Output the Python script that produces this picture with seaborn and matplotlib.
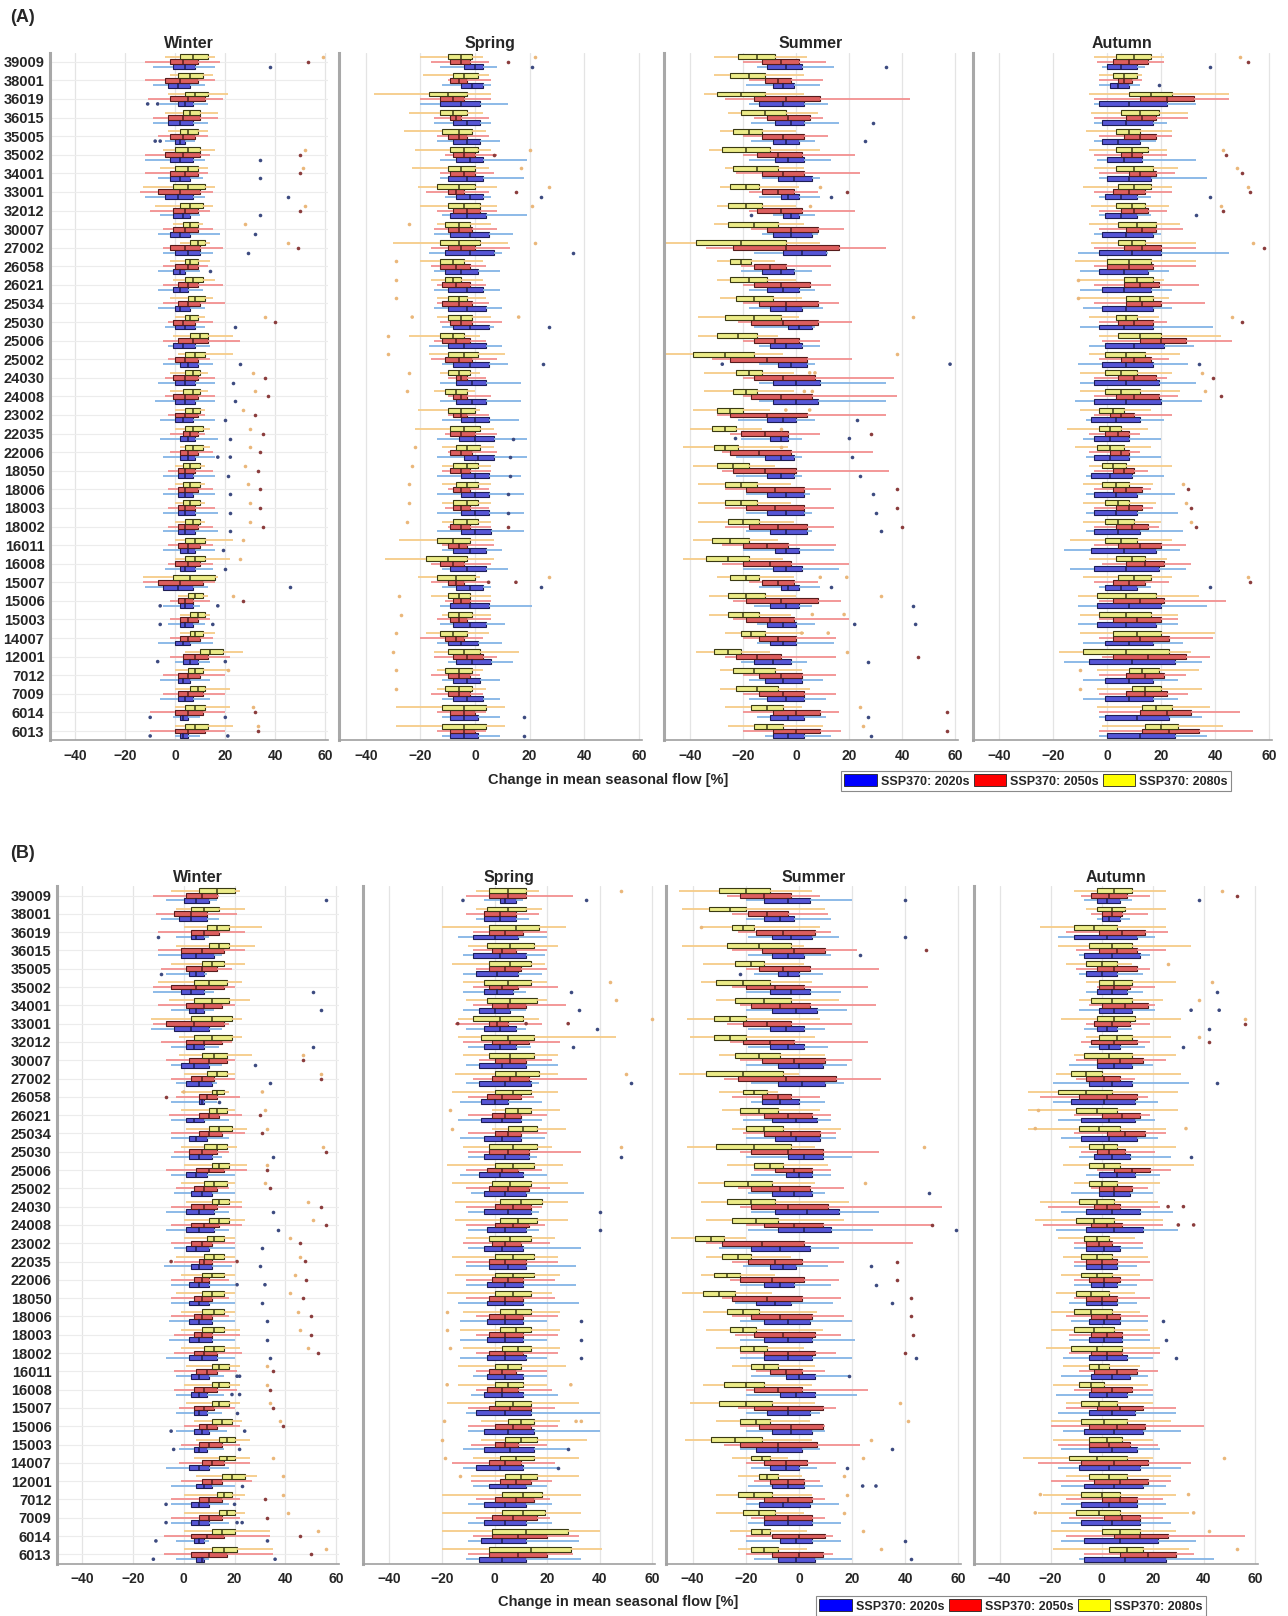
import numpy as np
import pandas as pd
import matplotlib.pyplot as plt
import seaborn as sns
from matplotlib.patches import Patch

# %% data: catchments, periods, and per-box (low whisker, q1, median, q3, high whisker)
catchments = ['39009', '38001', '36019', '36015', '35005', '35002', '34001', '33001', '32012',
              '30007', '27002', '26058', '26021', '25034', '25030', '25006', '25002', '24030',
              '24008', '23002', '22035', '22006', '18050', '18006', '18003', '18002', '16011',
              '16008', '15007', '15006', '15003', '14007', '12001', '7012', '7009', '6014', '6013']
periods = ['2020s', '2050s', '2080s']
seasons = ['Winter', 'Spring', 'Summer', 'Autumn']

# ---------------- (A) ----------------
A_winter_2020s = [(-9,-1,4,8,16),(-9,-3,1,6,12),(-6,1,4,7,13),(-9,-3,2,7,13),(-4,0,2,4,8),(-12,-2,2,7,12),
    (-7,-2,2,6,11),(-12,-4,1,7,12),(-6,-1,3,6,10),(-7,-2,2,6,18),(-5,0,5,10,15),(-7,-1,2,4,10),(-7,-1,2,5,11),
    (-7,0,2,6,12),(-4,0,4,8,12),(-3,-1,3,8,14),(-5,2,5,9,15),(-7,0,4,8,16),(-8,0,4,8,16),(-6,0,3,7,16),
    (-6,2,5,8,17),(-5,2,5,8,16),(-5,1,4,7,16),(-5,1,4,7,16),(-5,1,4,8,17),(-5,1,4,8,17),(-5,2,5,8,16),
    (-4,2,4,8,15),(-12,-5,1,7,13),(-5,2,4,7,10),(-3,2,4,7,12),(-7,0,3,6,15),(0,3,6,9,14),(-6,1,3,6,14),
    (-6,1,4,7,14),(-1,2,3,5,10),(0,2,3,5,10)]
A_winter_2050s = [(-12,-2,3,9,18),(-12,-4,2,9,16),(-11,-2,5,12,19),(-9,-3,3,10,17),(-7,-2,3,8,13),(-12,-4,3,10,14),
    (-12,-2,4,9,13),(-14,-7,2,10,15),(-10,-1,4,9,14),(-5,-1,4,9,15),(-5,-2,4,10,19),(-5,0,5,9,13),(-5,1,5,9,19),
    (-5,1,5,10,20),(-3,-1,3,8,15),(-5,1,7,13,26),(-3,0,4,9,14),(-4,-1,4,9,16),(-4,-1,4,9,16),(-3,0,4,9,12),
    (-2,3,6,9,12),(-2,2,5,9,15),(-3,1,4,8,15),(-3,1,4,9,15),(-3,1,4,8,16),(-3,1,4,9,15),(-3,1,5,10,15),
    (-3,0,5,10,15),(-13,-7,2,11,16),(-2,1,4,7,14),(-2,2,5,9,14),(-2,2,5,10,15),(-2,3,8,13,22),(-5,1,5,10,20),
    (-5,1,5,11,20),(-10,0,5,11,20),(-10,0,5,12,20)]
A_winter_2080s = [(-4,2,7,13,16),(-2,1,6,11,15),(-3,4,8,13,21),(-4,3,6,10,17),(-3,2,5,9,13),(-5,0,5,10,16),
    (-6,0,5,9,13),(-13,-1,5,12,16),(-8,2,6,11,15),(-1,3,6,9,11),(2,6,9,12,14),(-2,4,6,9,14),(-1,4,7,11,16),
    (-2,5,8,12,15),(0,4,6,9,12),(-1,6,10,13,23),(1,4,8,12,23),(-2,4,7,10,13),(-2,3,7,10,13),(0,4,7,10,12),
    (0,4,7,11,14),(2,4,7,11,14),(0,3,6,10,12),(0,3,6,10,12),(0,3,6,10,12),(0,4,7,10,12),(0,4,8,12,23),
    (0,4,8,12,22),(-13,-1,6,16,17),(1,5,8,11,13),(2,6,9,12,14),(2,6,8,11,16),(4,10,14,19,27),(0,5,8,11,21),
    (0,6,9,12,22),(0,4,8,12,22),(0,4,8,13,23)]
A_winter_out = [('39009','2020s',38),('39009','2050s',53),('39009','2080s',59),('36019','2020s',-11),('36019','2020s',-7),
    ('35005','2020s',-8),('35005','2020s',-6),('35002','2020s',34),('35002','2050s',50),('35002','2080s',52),
    ('34001','2020s',34),('34001','2050s',50),('34001','2080s',51),('33001','2020s',45),('32012','2020s',34),
    ('32012','2050s',50),('32012','2080s',52),('30007','2020s',32),('30007','2080s',28),('27002','2020s',29),
    ('27002','2050s',49),('27002','2080s',45),('26058','2020s',14),('25030','2020s',24),('25030','2080s',36),
    ('25030','2050s',40),('25002','2020s',26),('24030','2020s',23),('24030','2080s',31),('24030','2050s',36),
    ('24008','2020s',24),('24008','2080s',32),('24008','2050s',37),('23002','2020s',20),('23002','2080s',27),
    ('23002','2050s',32),('22035','2020s',22),('22035','2080s',30),('22035','2050s',35),('22006','2020s',17),
    ('22006','2020s',22),('22006','2080s',30),('22006','2050s',34),('18050','2020s',21),('18050','2080s',28),
    ('18050','2050s',33),('18006','2020s',22),('18006','2080s',29),('18006','2050s',34),('18003','2020s',22),
    ('18003','2080s',30),('18003','2050s',34),('18002','2020s',22),('18002','2080s',30),('18002','2050s',35),
    ('16011','2020s',19),('16011','2080s',27),('16008','2020s',20),('16008','2080s',26),('15007','2020s',46),
    ('15006','2020s',-6),('15006','2020s',17),('15006','2080s',23),('15006','2050s',27),('15003','2020s',-6),
    ('15003','2020s',15),('12001','2020s',-7),('12001','2020s',20),('7012','2080s',21),('6014','2020s',-10),
    ('6014','2020s',20),('6014','2050s',32),('6014','2080s',31),('6013','2020s',-10),('6013','2020s',21),
    ('6013','2050s',33),('6013','2080s',33)]

A_spring_2020s = [(-13,-4,0,3,8),(-12,-5,-1,3,6),(-20,-13,-5,2,12),(-15,-8,-3,2,6),(-14,-8,-3,2,9),(-13,-7,-2,3,19),
    (-13,-10,-3,3,18),(-11,-7,-2,3,6),(-12,-9,-3,4,19),(-15,-9,-2,5,14),(-17,-11,-2,7,10),(-15,-11,-5,1,9),
    (-15,-10,-3,3,9),(-15,-10,-3,4,10),(-12,-8,-2,5,7),(-17,-10,-4,4,10),(-12,-8,-2,5,12),(-13,-7,-1,4,17),
    (-13,-7,-1,4,17),(-12,-5,0,5,16),(-14,-6,0,7,19),(-14,-4,1,7,19),(-14,-5,0,5,17),(-14,-5,0,5,18),
    (-14,-5,0,5,18),(-14,-5,0,6,18),(-12,-8,-2,4,10),(-12,-9,-3,4,12),(-12,-7,-2,3,6),(-13,-9,-2,5,21),
    (-13,-8,-2,4,11),(-14,-10,-5,1,10),(-10,-7,-1,6,14),(-12,-8,-3,2,9),(-12,-8,-3,3,9),(-12,-9,-4,1,9),
    (-12,-9,-4,1,9)]
A_spring_2050s = [(-16,-9,-5,-2,5),(-10,-9,-6,-3,6),(-20,-13,-8,-4,6),(-15,-9,-7,-5,5),(-14,-10,-6,-3,5),
    (-11,-8,-4,0,8),(-13,-9,-4,0,7),(-18,-10,-7,-4,5),(-14,-8,-3,2,8),(-15,-10,-6,-1,8),(-16,-10,-5,0,13),
    (-16,-13,-7,-2,4),(-14,-12,-7,-2,4),(-14,-12,-6,-1,5),(-13,-9,-5,-1,10),(-15,-12,-7,-2,4),(-16,-11,-6,-1,8),
    (-10,-7,-5,-3,4),(-10,-8,-5,-3,6),(-10,-8,-5,-3,5),(-11,-9,-5,0,8),(-10,-9,-5,-1,8),(-12,-9,-5,-2,6),
    (-10,-8,-5,-2,5),(-11,-8,-5,-2,5),(-10,-9,-5,-2,6),(-12,-10,-6,-3,7),(-16,-13,-8,-4,6),(-16,-10,-7,-4,5),
    (-11,-8,-5,-2,6),(-14,-9,-6,-3,6),(-20,-11,-7,-4,3),(-15,-8,-3,3,8),(-16,-10,-6,-2,2),(-16,-10,-6,-2,3),
    (-14,-9,-4,0,4),(-14,-9,-4,0,4)]
A_spring_2080s = [(-20,-10,-5,-1,3),(-19,-8,-4,1,5),(-37,-17,-10,-3,6),(-24,-13,-8,-3,3),(-26,-12,-6,-1,4),
    (-22,-9,-4,1,6),(-23,-10,-5,0,5),(-21,-14,-6,0,8),(-20,-10,-4,2,8),(-14,-11,-6,-2,6),(-30,-13,-6,2,12),
    (-20,-13,-8,-4,3),(-16,-11,-8,-5,3),(-14,-10,-6,-3,4),(-14,-10,-5,-1,6),(-24,-13,-8,-4,2),(-17,-10,-4,1,11),
    (-13,-10,-6,-2,2),(-15,-11,-7,-3,0),(-21,-10,-5,0,2),(-22,-9,-4,2,7),(-12,-7,-3,2,7),(-12,-8,-3,1,6),
    (-12,-7,-3,1,6),(-12,-8,-3,1,6),(-12,-8,-3,1,6),(-28,-14,-8,-2,7),(-33,-18,-10,-3,7),(-21,-14,-7,0,2),
    (-16,-10,-6,-2,6),(-12,-10,-6,-1,6),(-18,-13,-8,-3,5),(-15,-10,-4,2,16),(-14,-11,-6,-1,3),(-14,-11,-6,-1,4),
    (-29,-12,-4,4,11),(-29,-12,-4,4,11)]
A_spring_out = [('39009','2020s',21),('39009','2050s',12),('39009','2080s',22),('35002','2080s',20),('35002','2050s',7),
    ('34001','2080s',17),('33001','2050s',15),('33001','2020s',24),('33001','2080s',27),('32012','2080s',21),
    ('30007','2080s',-24),('27002','2020s',36),('27002','2080s',22),('26058','2080s',-29),('26021','2080s',-29),
    ('25034','2080s',-29),('25030','2080s',-23),('25030','2080s',16),('25030','2020s',27),('25006','2080s',-32),
    ('25002','2080s',-32),('25002','2020s',25),('24030','2080s',-24),('24008','2080s',-25),('22035','2020s',14),
    ('22006','2080s',-22),('22006','2020s',13),('18050','2080s',-23),('18050','2020s',13),('18006','2080s',-24),
    ('18006','2020s',12),('18003','2080s',-24),('18003','2020s',12),('18002','2080s',-25),('18002','2050s',12),
    ('15007','2080s',27),('15007','2050s',5),('15007','2050s',15),('15007','2020s',24),('15006','2080s',-28),
    ('15003','2080s',-27),('14007','2080s',-29),('12001','2080s',-30),('7012','2080s',-29),('7009','2080s',-29),
    ('6014','2020s',18),('6013','2020s',18)]

A_summer_2020s = [(-15,-11,-4,2,14),(-19,-9,-5,-1,9),(-18,-14,-5,3,12),(-17,-8,-2,3,16),(-17,-9,-4,1,7),
    (-18,-8,-3,3,13),(-13,-7,-1,6,9),(-14,-6,-3,1,9),(-9,-5,-2,1,7),(-13,-9,-2,6,8),(-16,-5,2,11,12),
    (-21,-13,-6,-1,6),(-18,-11,-5,1,7),(-18,-10,-4,2,10),(-16,-3,1,6,7),(-14,-10,-4,2,9),(-14,-7,-2,4,7),
    (-14,-9,0,9,34),(-14,-9,0,8,34),(-22,-11,-5,0,7),(-21,-10,-6,-3,2),(-23,-12,-6,-1,2),(-23,-11,-6,-1,2),
    (-19,-11,-4,3,5),(-19,-11,-4,3,6),(-19,-10,-4,4,6),(-20,-8,-4,1,14),(-20,-9,-4,2,16),(-14,-6,-3,1,9),
    (-16,-10,-4,1,6),(-15,-11,-5,0,7),(-15,-10,-5,0,14),(-21,-16,-9,-2,4),(-18,-12,-5,2,10),(-18,-11,-4,3,11),
    (-15,-10,-3,3,11),(-12,-9,-3,3,13)]
A_summer_2050s = [(-20,-13,-6,1,11),(-18,-12,-7,-2,10),(-27,-16,-4,9,43),(-16,-11,-3,5,10),(-20,-13,-5,3,12),
    (-20,-15,-7,2,22),(-23,-13,-5,3,24),(-18,-13,-7,-1,8),(-18,-15,-6,2,22),(-17,-11,-2,8,18),(-34,-24,-4,16,34),
    (-21,-16,-10,-4,13),(-20,-16,-6,5,13),(-20,-14,-4,8,16),(-22,-17,-5,8,21),(-20,-16,-8,1,9),(-32,-25,-11,4,21),
    (-20,-16,-5,7,37),(-20,-17,-6,6,38),(-30,-25,-11,4,34),(-25,-21,-12,-3,9),(-28,-25,-14,-2,29),(-28,-24,-12,0,35),
    (-27,-19,-8,3,13),(-27,-19,-8,3,14),(-27,-18,-7,4,14),(-28,-20,-11,-3,15),(-28,-20,-10,-2,20),(-18,-13,-7,-1,8),
    (-24,-19,-6,8,17),(-24,-19,-10,-1,20),(-20,-14,-7,0,15),(-27,-23,-15,-6,15),(-20,-14,-6,2,15),(-20,-14,-5,3,15),
    (-20,-9,0,9,16),(-20,-9,0,9,17)]
A_summer_2080s = [(-31,-22,-15,-8,4),(-31,-25,-18,-12,3),(-35,-30,-21,-12,3),(-26,-21,-12,-4,8),(-29,-24,-18,-13,0),
    (-33,-28,-19,-10,9),(-27,-24,-15,-7,3),(-29,-25,-19,-14,1),(-30,-26,-19,-13,0),(-31,-26,-16,-7,3),
    (-51,-38,-21,-4,9),(-30,-25,-21,-17,-8),(-30,-25,-18,-11,0),(-29,-23,-16,-9,2),(-37,-27,-16,-6,1),
    (-37,-30,-22,-15,-7),(-50,-39,-27,-16,-5),(-35,-23,-18,-13,-1),(-35,-24,-19,-15,-1),(-39,-30,-25,-20,-10),
    (-40,-32,-27,-23,-13),(-43,-31,-27,-22,-3),(-39,-30,-24,-18,-8),(-37,-27,-21,-15,-2),(-37,-27,-21,-15,-2),
    (-37,-26,-20,-14,-1),(-39,-32,-25,-18,-7),(-43,-34,-26,-18,-5),(-30,-25,-19,-14,-1),(-33,-26,-19,-12,0),
    (-33,-26,-20,-14,-2),(-27,-21,-17,-12,3),(-38,-31,-26,-21,-10),(-29,-24,-16,-8,2),(-29,-23,-15,-7,5),
    (-27,-17,-11,-5,2),(-26,-16,-11,-5,10)]
A_summer_out = [('39009','2020s',34),('36015','2020s',29),('35005','2020s',26),('33001','2080s',9),('33001','2050s',19),
    ('33001','2020s',13),('32012','2020s',-17),('32012','2080s',5),('25030','2080s',44),('25002','2080s',38),
    ('25002','2020s',-28),('25002','2020s',58),('24030','2080s',5),('24030','2080s',7),('24008','2080s',3),
    ('24008','2080s',6),('23002','2080s',-4),('23002','2080s',5),('23002','2020s',23),('22035','2080s',-6),
    ('22035','2050s',28),('22035','2020s',-23),('22035','2020s',20),('22006','2080s',-6),('22006','2020s',21),
    ('18050','2020s',24),('18006','2020s',29),('18006','2050s',38),('18003','2020s',30),('18003','2050s',38),
    ('18002','2020s',32),('18002','2050s',40),('15007','2080s',9),('15007','2080s',19),('15007','2020s',13),
    ('15006','2080s',32),('15006','2020s',44),('15003','2080s',6),('15003','2080s',18),('15003','2020s',22),
    ('15003','2020s',45),('14007','2080s',2),('14007','2080s',12),('12001','2080s',19),('12001','2020s',27),
    ('12001','2050s',46),('6014','2080s',24),('6014','2020s',27),('6014','2050s',57),('6013','2080s',25),
    ('6013','2020s',28),('6013','2050s',57)]

A_autumn_2020s = [(-2,0,5,11,14),(-3,1,4,8,12),(-5,-3,8,22,33),(-5,-2,7,17,22),(-5,-2,4,12,18),(-4,0,6,13,33),
    (-3,0,8,16,37),(-3,-1,5,11,16),(-3,-1,5,11,16),(-5,-2,7,17,20),(-11,-3,9,20,45),(-10,-3,6,15,23),
    (-10,-2,6,16,24),(-9,-2,7,17,24),(-10,-3,6,17,39),(-7,-1,10,21,32),(-11,-2,7,17,30),(-10,-5,7,19,33),
    (-12,-5,7,20,35),(-8,-6,3,12,21),(-9,-5,1,8,20),(-8,-5,1,8,20),(-8,-6,1,9,21),(-8,-5,3,11,25),(-8,-5,3,11,26),
    (-8,-5,4,12,28),(-16,-6,6,18,27),(-14,-5,7,19,29),(-3,-1,5,11,16),(-11,-4,8,20,37),(-11,-4,7,18,26),
    (-9,-1,8,17,28),(-16,-7,9,25,35),(-9,-1,8,17,26),(-9,-1,8,17,26),(-3,-1,11,23,35),(-3,0,12,25,37)]
A_autumn_2050s = [(-4,2,8,15,21),(-3,4,6,9,13),(-5,12,22,32,45),(-5,7,13,18,30),(-3,6,12,18,24),(-5,5,9,13,22),
    (-3,8,12,18,25),(-5,2,8,14,24),(-3,5,10,15,22),(-3,7,13,18,28),(-5,6,13,20,33),(-5,0,8,17,33),(-5,6,12,19,34),
    (-5,7,13,20,36),(-3,4,10,17,22),(-2,12,20,29,46),(-3,5,10,16,23),(-5,4,10,18,22),(-5,3,10,19,26),(-5,1,5,10,24),
    (-7,-1,4,8,12),(-7,1,5,8,12),(-5,2,6,10,15),(-5,2,7,13,16),(-5,3,8,13,17),(-5,3,9,15,19),(-5,4,12,20,29),
    (-2,7,14,21,31),(-5,2,8,14,23),(-3,2,12,21,44),(-3,2,11,20,26),(-3,2,12,23,39),(-2,2,15,29,38),(-3,7,14,21,29),
    (-3,7,14,22,30),(-3,12,22,31,49),(-3,13,23,34,54)]
A_autumn_2080s = [(-5,3,10,16,21),(-3,2,6,11,13),(-7,8,16,24,45),(-6,5,12,19,30),(-8,3,8,12,24),(-7,3,9,15,22),
    (-5,3,10,17,26),(-9,4,10,16,24),(-6,3,9,14,23),(-7,4,11,18,27),(-6,4,9,14,33),(-12,0,8,16,33),(-11,6,11,17,21),
    (-11,7,12,17,23),(-7,3,7,11,19),(-3,4,12,20,42),(-7,-1,7,14,27),(-10,-1,5,11,24),(-10,-1,5,12,27),(-10,-3,2,6,16),
    (-15,-3,1,5,15),(-12,-4,1,6,16),(-7,-2,2,7,24),(-9,-2,3,8,17),(-9,-1,4,8,18),(-9,-1,4,10,20),(-14,-1,5,11,24),
    (-7,3,9,14,22),(-9,4,10,16,24),(-11,-4,7,18,34),(-10,-3,7,16,26),(-10,2,11,20,40),(-18,-9,7,23,31),
    (-4,8,13,19,34),(-4,9,14,20,35),(-4,13,18,24,38),(-2,14,20,26,43)]
A_autumn_out = [('39009','2020s',38),('39009','2080s',49),('39009','2050s',52),('38001','2020s',19),('35002','2080s',43),
    ('35002','2050s',44),('34001','2080s',48),('34001','2050s',50),('33001','2020s',38),('33001','2080s',52),
    ('33001','2050s',53),('32012','2020s',33),('32012','2080s',42),('32012','2050s',43),('27002','2080s',54),
    ('27002','2050s',58),('26021','2080s',-11),('25034','2080s',-11),('25030','2080s',46),('25030','2050s',50),
    ('25002','2020s',34),('24030','2080s',35),('24030','2050s',39),('24008','2080s',36),('24008','2050s',42),
    ('18006','2080s',28),('18006','2050s',30),('18003','2080s',29),('18003','2050s',31),('18002','2080s',31),
    ('18002','2050s',33),('15007','2020s',38),('15007','2080s',52),('15007','2050s',53),('7012','2080s',-10),
    ('7009','2080s',-10)]

# ---------------- (B) ----------------
B_winter_2020s = [(-7,0,5,10,13),(-9,-2,3,9,14),(-3,3,5,8,10),(-10,-1,5,12,15),(-7,2,5,8,9),(-12,-1,3,8,12),
    (-5,2,5,8,12),(-13,-4,3,10,15),(-5,1,4,8,14),(-5,-1,4,10,15),(-3,1,6,11,13),(-5,6,7,8,13),(-5,1,4,8,18),
    (-5,2,5,9,18),(-5,2,6,11,15),(-5,1,5,9,20),(-4,3,7,11,20),(-7,1,6,12,18),(-7,1,6,12,18),(-4,1,5,10,20),
    (-8,3,6,11,19),(-5,2,6,10,20),(-5,2,6,10,20),(-6,2,6,11,20),(-6,2,6,11,20),(-7,2,7,13,20),(-3,3,6,10,16),
    (-3,3,6,9,16),(-3,4,6,9,15),(-3,4,7,10,17),(-2,4,6,9,16),(-7,2,6,10,18),(-5,5,8,11,20),(-5,3,6,10,18),
    (-5,3,6,10,18),(-3,4,6,8,10),(-3,5,7,8,10)]
B_winter_2050s = [(-12,1,7,13,14),(-11,-4,3,9,21),(-10,3,8,14,24),(-10,-1,7,16,24),(-9,1,7,13,19),(-12,-5,5,16,20),
    (-10,1,8,15,20),(-12,-7,4,16,18),(-9,1,8,15,19),(-7,2,10,17,20),(-5,3,7,12,20),(-3,6,9,13,22),(-6,6,10,14,23),
    (-5,6,10,15,24),(-4,2,7,13,18),(-7,5,10,16,25),(-3,4,8,13,18),(-5,3,8,13,23),(-5,3,8,14,23),(-5,3,7,11,20),
    (-4,6,8,11,20),(-5,4,7,10,18),(-5,4,7,11,18),(-5,4,7,11,18),(-4,4,7,11,22),(-4,4,8,13,23),(-4,5,9,13,21),
    (-4,4,8,13,21),(-2,4,8,12,20),(0,6,9,13,22),(-1,6,10,15,22),(-2,7,11,16,26),(-1,7,11,15,27),(-5,6,10,15,22),
    (-5,6,10,15,22),(-8,3,9,16,34),(-8,3,10,17,35)]
B_winter_2080s = [(-5,6,13,20,22),(-3,3,8,14,24),(0,9,13,18,31),(-3,10,14,18,28),(-5,7,11,16,24),(-10,4,10,17,23),
    (-6,4,11,18,26),(-13,3,11,19,23),(-2,4,11,19,23),(-2,7,12,17,27),(0,9,13,17,20),(-1,11,13,16,18),(-1,10,13,17,20),
    (1,10,14,19,25),(-1,8,13,17,21),(0,11,14,18,25),(-1,8,12,17,20),(1,11,14,18,23),(0,10,14,18,24),(0,9,12,16,20),
    (-3,8,12,16,20),(-1,7,11,16,20),(-3,7,11,16,20),(-1,7,12,16,20),(-1,7,12,16,22),(-1,8,12,16,22),(1,11,14,18,22),
    (0,11,14,18,22),(1,11,14,18,22),(4,11,15,19,23),(5,14,17,20,26),(4,14,17,20,26),(5,15,19,24,29),(0,13,16,19,24),
    (0,14,17,20,24),(0,11,15,20,34),(0,11,16,21,35)]
B_winter_out = [('39009','2020s',56),('36019','2020s',-10),('35005','2020s',-9),('35002','2020s',51),('34001','2020s',54),
    ('32012','2020s',51),('30007','2020s',28),('30007','2080s',47),('30007','2050s',47),('27002','2020s',34),
    ('27002','2080s',54),('27002','2050s',54),('26058','2080s',0),('26058','2080s',31),('26058','2050s',-7),
    ('26058','2020s',14),('26021','2080s',32),('26021','2050s',30),('25034','2080s',33),('25034','2050s',31),
    ('25030','2020s',35),('25030','2080s',55),('25030','2050s',56),('25006','2080s',33),('25006','2050s',33),
    ('25002','2080s',32),('25002','2050s',34),('24030','2020s',35),('24030','2080s',49),('24030','2050s',54),
    ('24008','2020s',37),('24008','2080s',51),('24008','2050s',56),('23002','2020s',31),('23002','2080s',42),
    ('23002','2050s',46),('22035','2050s',-5),('22035','2050s',21),('22035','2020s',30),('22035','2080s',46),
    ('22035','2050s',48),('22006','2020s',21),('22006','2020s',32),('22006','2080s',44),('22006','2050s',48),
    ('18050','2020s',31),('18050','2080s',42),('18050','2050s',47),('18006','2020s',33),('18006','2080s',45),
    ('18006','2050s',50),('18003','2020s',33),('18003','2080s',46),('18003','2050s',50),('18002','2020s',34),
    ('18002','2080s',49),('18002','2050s',53),('16011','2020s',21),('16011','2020s',22),('16011','2080s',33),
    ('16011','2050s',35),('16008','2020s',19),('16008','2020s',22),('16008','2080s',33),('16008','2050s',34),
    ('15007','2020s',21),('15007','2080s',34),('15007','2050s',35),('15006','2020s',-5),('15006','2020s',24),
    ('15006','2080s',38),('15006','2050s',39),('15003','2020s',-4),('15003','2020s',22),('14007','2080s',35),
    ('12001','2080s',39),('12001','2020s',23),('7012','2020s',-7),('7012','2020s',20),('7012','2080s',39),
    ('7012','2050s',32),('7009','2020s',-7),('7009','2020s',21),('7009','2020s',23),('7009','2080s',41),
    ('7009','2050s',33),('6014','2020s',-11),('6014','2020s',33),('6014','2080s',53),('6014','2050s',46),
    ('6013','2020s',-12),('6013','2020s',36),('6013','2080s',56),('6013','2050s',50)]

B_spring_2020s = [(-4,2,4,8,11),(-7,-4,2,8,13),(-14,-8,0,9,20),(-12,-8,2,12,19),(-12,-7,1,9,18),(-12,-4,1,7,12),
    (-12,-6,0,6,12),(-11,-4,2,8,12),(-10,-4,2,8,14),(-11,-6,3,12,24),(-11,-6,4,14,17),(-13,-5,0,5,18),
    (-14,-5,3,10,18),(-13,-4,3,10,19),(-10,-4,4,13,16),(-13,-6,2,11,20),(-9,-4,4,12,34),(-10,-4,5,14,17),
    (-10,-3,4,12,17),(-10,-4,3,11,33),(-11,-2,5,12,31),(-11,-3,4,11,31),(-14,-3,4,11,32),(-13,-3,4,11,20),
    (-13,-3,4,11,20),(-13,-3,4,12,20),(-8,-3,4,11,20),(-9,-4,3,11,24),(-11,-7,4,14,40),(-10,-4,5,15,40),
    (-12,-4,6,15,28),(-12,-7,2,11,24),(-8,-2,5,12,20),(-10,-4,4,12,22),(-10,-4,4,12,22),(-10,-5,3,12,32),
    (-11,-6,3,12,33)]
B_spring_2050s = [(-11,-2,5,12,30),(-11,-4,2,8,17),(-8,-2,4,11,20),(-8,-1,3,8,20),(-7,-2,4,10,20),(-8,-2,3,9,24),
    (-8,-1,5,12,27),(-15,-2,1,5,18),(-12,-1,6,13,25),(-6,0,6,12,22),(-8,-1,6,13,35),(-10,-3,3,10,15),(-10,-1,4,10,20),
    (-10,0,5,10,20),(-10,-2,5,13,33),(-11,-3,3,9,18),(-11,-2,5,13,21),(-11,0,7,14,18),(-11,0,7,13,19),(-12,-1,4,10,21),
    (-11,-2,4,12,24),(-11,-1,5,11,23),(-11,-2,4,11,23),(-7,-2,4,11,24),(-7,-2,4,11,24),(-7,-2,4,11,24),(-7,-2,3,8,20),
    (-7,-3,3,9,22),(-10,-2,6,14,23),(-10,0,7,14,24),(-9,0,4,9,20),(-16,-2,4,10,23),(-9,2,8,14,22),(-7,0,8,15,21),
    (-7,-1,7,16,21),(-8,-1,9,20,32),(-10,-2,9,20,30)]
B_spring_2080s = [(-7,-2,5,12,17),(-7,-3,5,12,18),(-20,-2,8,17,27),(-10,-3,6,15,24),(-16,-2,6,14,19),(-12,-4,5,14,20),
    (-11,-3,6,16,20),(-14,-8,2,11,17),(-14,-5,5,15,46),(-12,-2,6,15,24),(-15,0,8,17,24),(-16,0,7,14,24),(-1,4,9,14,25),
    (-1,5,11,16,27),(-12,-2,7,16,22),(-18,0,7,15,26),(-16,-1,6,14,28),(-15,2,10,18,28),(-15,2,9,16,28),(-11,-2,6,14,23),
    (-16,0,7,15,24),(-15,0,7,15,25),(-18,0,7,14,22),(-12,2,8,14,25),(-13,2,8,14,25),(-12,3,9,14,25),(-14,0,5,10,27),
    (-14,0,5,11,20),(-18,0,7,14,32),(-5,5,10,15,25),(-5,4,10,16,35),(-8,2,8,15,32),(-9,4,10,16,32),(-20,3,11,18,33),
    (-20,3,11,19,33),(-20,-1,12,28,40),(-20,-2,14,29,41)]
B_spring_out = [('39009','2020s',-12),('39009','2020s',35),('39009','2080s',48),('35002','2020s',29),('35002','2080s',44),
    ('34001','2020s',32),('34001','2080s',46),('33001','2050s',-14),('33001','2050s',12),('33001','2050s',28),
    ('33001','2020s',39),('33001','2080s',60),('32012','2020s',30),('27002','2080s',50),('27002','2020s',52),
    ('26021','2080s',-17),('25034','2080s',-16),('25030','2080s',48),('25030','2020s',48),('24030','2020s',40),
    ('24008','2020s',40),('18006','2080s',-18),('18006','2020s',33),('18003','2080s',-18),('18003','2020s',33),
    ('18002','2080s',-17),('18002','2020s',33),('16008','2080s',-18),('16008','2080s',29),('15006','2080s',-19),
    ('15006','2080s',31),('15006','2080s',33),('15003','2080s',-20),('15003','2020s',28),('14007','2080s',-19),
    ('14007','2020s',24),('12001','2080s',-13)]

B_summer_2020s = [(-20,-13,-4,4,20),(-20,-13,-7,-2,12),(-19,-10,-3,5,15),(-19,-10,-4,2,12),(-17,-8,-4,0,9),
    (-20,-11,-3,4,16),(-20,-10,-1,7,18),(-19,-11,-5,2,10),(-19,-11,-4,2,11),(-20,-8,0,9,18),(-18,-8,1,10,17),
    (-18,-14,-7,0,10),(-21,-10,-1,7,12),(-20,-9,-1,8,14),(-20,-4,2,9,20),(-18,-5,0,5,12),(-19,-10,-2,5,10),
    (-18,-9,3,15,30),(-19,-8,2,12,28),(-30,-18,-7,4,15),(-21,-11,-6,-1,11),(-22,-13,-7,-2,12),(-24,-16,-9,-3,13),
    (-22,-13,-4,4,20),(-22,-13,-4,5,21),(-22,-13,-4,5,20),(-18,-5,0,6,19),(-20,-7,-1,6,22),(-20,-12,-4,4,8),
    (-20,-10,-3,5,10),(-22,-16,-8,1,8),(-18,-11,-5,0,7),(-19,-10,-4,2,9),(-20,-15,-6,4,15),(-19,-13,-4,5,16),
    (-20,-7,-1,5,16),(-17,-8,-1,6,20)]
B_summer_2050s = [(-27,-22,-13,-3,8),(-25,-19,-12,-4,11),(-23,-16,-6,6,12),(-25,-14,-2,10,22),(-20,-15,-6,4,30),
    (-25,-20,-9,2,26),(-22,-18,-7,4,29),(-27,-21,-12,-3,20),(-26,-21,-11,-2,26),(-22,-14,-2,10,20),(-28,-23,-5,14,31),
    (-25,-14,-8,-3,8),(-22,-13,-4,5,12),(-21,-13,-3,8,14),(-22,-18,-4,9,30),(-17,-9,-2,5,12),(-23,-18,-7,4,17),
    (-22,-18,-4,11,54),(-20,-13,-2,9,50),(-35,-29,-14,2,43),(-25,-19,-9,1,17),(-26,-22,-10,2,15),(-29,-25,-12,1,16),
    (-25,-18,-7,5,17),(-24,-17,-6,6,16),(-22,-13,-4,6,14),(-16,-11,-5,1,10),(-20,-17,-8,1,26),(-23,-17,-4,9,14),
    (-22,-15,-3,9,10),(-28,-22,-8,7,23),(-20,-13,-5,3,14),(-17,-11,-4,2,8),(-20,-13,-4,5,10),(-18,-13,-4,5,10),
    (-20,-10,0,10,13),(-20,-10,0,9,13)]
B_summer_2080s = [(-45,-30,-20,-11,5),(-44,-34,-26,-20,10),(-37,-25,-21,-17,8),(-44,-27,-15,-3,2),(-36,-24,-18,-13,2),
    (-37,-31,-21,-11,5),(-31,-24,-13,-3,15),(-42,-32,-26,-20,8),(-41,-32,-26,-20,6),(-30,-24,-15,-7,10),
    (-45,-35,-21,-6,0),(-30,-21,-17,-12,-8),(-29,-22,-15,-8,8),(-25,-20,-13,-6,16),(-42,-31,-17,-3,6),
    (-27,-17,-11,-6,11),(-38,-28,-19,-10,6),(-37,-27,-18,-9,19),(-35,-25,-16,-8,17),(-48,-39,-33,-28,-20),
    (-35,-29,-23,-18,-3),(-37,-32,-27,-22,-9),(-44,-36,-30,-24,-10),(-36,-27,-21,-15,7),(-35,-26,-21,-16,9),
    (-31,-22,-17,-12,2),(-25,-18,-13,-8,6),(-36,-28,-20,-13,5),(-41,-30,-20,-10,6),(-31,-22,-16,-11,4),
    (-43,-33,-24,-14,5),(-25,-18,-14,-11,-4),(-23,-15,-12,-8,1),(-31,-23,-17,-10,5),(-31,-21,-15,-9,2),
    (-26,-18,-14,-11,3),(-23,-18,-13,-8,3)]
B_summer_out = [('39009','2020s',40),('36019','2080s',-37),('36019','2020s',40),('36015','2020s',23),('36015','2050s',48),
    ('35005','2020s',-22),('25030','2080s',47),('25002','2080s',25),('25002','2020s',49),('24008','2050s',50),
    ('24008','2020s',59),('22035','2050s',37),('22035','2020s',27),('22006','2050s',37),('22006','2020s',29),
    ('18050','2050s',42),('18050','2020s',35),('18006','2050s',42),('18003','2050s',43),('18002','2050s',40),
    ('18002','2020s',44),('16011','2020s',19),('15007','2080s',38),('15006','2080s',41),('15003','2080s',27),
    ('15003','2020s',35),('14007','2080s',24),('14007','2020s',18),('12001','2080s',17),('12001','2020s',24),
    ('12001','2020s',29),('7012','2080s',18),('7009','2080s',17),('6014','2080s',24),('6014','2020s',40),
    ('6013','2080s',31),('6013','2020s',42)]

B_autumn_2020s = [(-7,-2,2,7,12),(-2,0,3,7,11),(-17,-11,2,14,21),(-9,-7,4,15,19),(-9,-6,0,6,16),(-6,-2,4,10,16),
    (-9,-1,5,12,21),(-7,-2,2,6,12),(-5,-1,3,7,17),(-13,-2,5,12,20),(-19,-5,4,12,34),(-19,-12,1,13,22),(-17,-8,3,13,21),
    (-16,-8,3,14,22),(-9,-3,4,11,27),(-6,-1,6,13,23),(-12,-1,5,11,20),(-16,-6,4,15,28),(-18,-6,5,16,30),(-11,-6,1,7,16),
    (-11,-6,0,6,14),(-11,-4,1,6,14),(-13,-6,0,6,14),(-12,-5,1,7,18),(-13,-5,1,8,19),(-15,-5,2,10,20),(-16,-4,4,11,18),
    (-18,-5,2,10,20),(-17,-5,4,13,29),(-15,-7,5,16,31),(-16,-5,4,14,23),(-17,-9,3,15,31),(-16,-7,5,16,25),
    (-16,-8,3,14,25),(-16,-8,4,15,27),(-16,-7,7,22,37),(-9,-7,9,25,44)]
B_autumn_2050s = [(-8,-4,3,10,19),(-4,0,4,8,18),(-14,-1,8,17,26),(-10,-1,6,14,25),(-10,-2,5,14,19),(-2,-1,5,11,21),
    (-5,0,9,18,21),(-6,-3,4,11,19),(-8,-4,5,14,19),(-10,-2,7,16,25),(-10,-6,1,7,13),(-24,-9,2,14,18),(-11,0,8,15,19),
    (-11,2,9,17,25),(-8,-2,3,9,21),(-2,5,12,19,27),(-4,-1,5,12,18),(-21,-3,2,7,23),(-23,-4,2,8,24),(-11,-6,-1,4,16),
    (-11,-6,0,6,19),(-11,-5,1,7,20),(-11,-6,0,6,19),(-14,-4,2,7,18),(-13,-4,2,8,19),(-13,-4,2,8,23),(-9,-3,6,14,22),
    (-11,-4,4,12,20),(-14,-2,7,16,29),(-20,-5,6,17,40),(-17,-5,3,11,22),(-25,-8,5,18,35),(-20,-3,7,18,27),
    (-14,0,7,14,24),(-13,1,8,15,24),(-14,5,15,26,56),(-7,7,18,29,36)]
B_autumn_2080s = [(-11,-2,5,12,25),(-6,-2,4,9,25),(-24,-11,-3,6,25),(-17,-5,4,12,35),(-14,-6,0,6,12),(-6,-1,5,12,29),
    (-9,-4,4,12,24),(-16,-2,5,13,31),(-6,-1,6,12,27),(-11,-7,3,12,29),(-18,-12,-6,0,31),(-29,-17,-6,4,30),
    (-29,-10,-2,6,30),(-29,-9,-1,7,25),(-13,-5,1,6,29),(-15,-5,1,7,36),(-11,-5,0,6,23),(-24,-9,-2,5,22),
    (-26,-10,-3,5,24),(-17,-7,-2,3,13),(-15,-8,-2,4,18),(-16,-8,-2,4,15),(-18,-10,-4,3,13),(-20,-11,-4,4,15),
    (-20,-11,-3,5,18),(-22,-12,-2,8,23),(-15,-5,-1,3,15),(-19,-9,-4,1,18),(-14,-8,-1,6,20),(-20,-8,1,10,27),
    (-19,-5,2,8,20),(-31,-13,-2,10,20),(-14,-5,3,10,27),(-23,-8,0,7,29),(-25,-10,-1,7,34),(-20,0,7,15,29),
    (-19,3,10,16,34)]
B_autumn_out = [('39009','2020s',38),('39009','2080s',47),('39009','2050s',53),('35005','2080s',26),('35002','2080s',43),
    ('35002','2020s',45),('34001','2020s',35),('34001','2020s',46),('34001','2080s',38),('33001','2020s',42),
    ('33001','2080s',56),('33001','2050s',56),('32012','2020s',32),('32012','2080s',38),('32012','2050s',42),
    ('27002','2020s',45),('26021','2080s',-25),('25034','2080s',-26),('25034','2080s',33),('25030','2020s',35),
    ('24030','2050s',26),('24030','2050s',32),('24008','2050s',30),('24008','2050s',36),('18006','2020s',24),
    ('18003','2020s',25),('18002','2020s',29),('14007','2080s',48),('7012','2080s',-24),('7012','2080s',34),
    ('7009','2080s',-26),('7009','2080s',36),('6014','2080s',42),('6013','2080s',53)]

# %% long tables for seaborn
def box_frame(stats, period):
    rows = [(c, period, v) for c, five in zip(catchments, stats) for v in five]
    return pd.DataFrame(rows, columns=['catchment', 'period', 'change'])

boxes = {
    ('A', 'Winter'): [A_winter_2020s, A_winter_2050s, A_winter_2080s],
    ('A', 'Spring'): [A_spring_2020s, A_spring_2050s, A_spring_2080s],
    ('A', 'Summer'): [A_summer_2020s, A_summer_2050s, A_summer_2080s],
    ('A', 'Autumn'): [A_autumn_2020s, A_autumn_2050s, A_autumn_2080s],
    ('B', 'Winter'): [B_winter_2020s, B_winter_2050s, B_winter_2080s],
    ('B', 'Spring'): [B_spring_2020s, B_spring_2050s, B_spring_2080s],
    ('B', 'Summer'): [B_summer_2020s, B_summer_2050s, B_summer_2080s],
    ('B', 'Autumn'): [B_autumn_2020s, B_autumn_2050s, B_autumn_2080s],
}
outliers = {
    ('A', 'Winter'): A_winter_out, ('A', 'Spring'): A_spring_out,
    ('A', 'Summer'): A_summer_out, ('A', 'Autumn'): A_autumn_out,
    ('B', 'Winter'): B_winter_out, ('B', 'Spring'): B_spring_out,
    ('B', 'Summer'): B_summer_out, ('B', 'Autumn'): B_autumn_out,
}

# %% styling
sns.set_theme(style='white')
plt.rcParams['font.family'] = ['Liberation Sans', 'DejaVu Sans']

hue_order = ['2080s', '2050s', '2020s']   # top to bottom within a row
box_fill = {'2020s': '#5656d6', '2050s': '#dc5e5e', '2080s': '#ecec88'}
box_edge = {'2020s': '#1d1d55', '2050s': '#561c1c', '2080s': '#3a3a12'}
whisk_col = {'2020s': '#84b4e6', '2050s': '#f29090', '2080s': '#f6cc88'}
dot_col = {'2020s': '#3c4a80', '2050s': '#8a3c3c', '2080s': '#eab77a'}

W = 1288
H = 1616
# axes spans in pixels (left, right) and (top, bottom)
x_spans = {
    'A': [(50, 328), (338.5, 641.5), (664, 958), (972.5, 1272)],
    'B': [(57, 338.5), (363, 655), (666, 961), (974, 1257.5)],
}
y_spans = {'A': (52.5, 740.3), 'B': (886.4, 1563.5)}

fig = plt.figure(figsize=(W / 100, H / 100), dpi=100)

for panel in ['A', 'B']:
    top, bottom = y_spans[panel]
    for k, season in enumerate(seasons):
        left, right = x_spans[panel][k]
        ax = fig.add_axes([left / W, 1 - bottom / H, (right - left) / W, (bottom - top) / H])
        for period, stats in zip(periods, boxes[(panel, season)]):
            sns.boxplot(data=box_frame(stats, period), x='change', y='catchment', hue='period',
                        order=catchments, hue_order=hue_order, palette=box_fill, saturation=1,
                        orient='h', dodge=True, width=0.8, whis=(0, 100), showcaps=False,
                        linewidth=0.8, legend=False, ax=ax,
                        boxprops={'facecolor': box_fill[period], 'edgecolor': box_edge[period],
                                  'linewidth': 0.8},
                        whiskerprops={'color': whisk_col[period], 'linewidth': 1.3},
                        medianprops={'color': box_edge[period], 'linewidth': 1.1})
        out = pd.DataFrame(outliers[(panel, season)], columns=['catchment', 'period', 'change'])
        sns.stripplot(data=out, x='change', y='catchment', hue='period', order=catchments,
                      hue_order=hue_order, palette=dot_col, orient='h', dodge=True, jitter=False,
                      size=2.6, linewidth=0, legend=False, ax=ax)

        ax.set_xlim(-50, 61)
        ax.set_ylim(36.5, -0.5)
        ax.set_xticks([-40, -20, 0, 20, 40, 60])
        ax.set_xlabel('')
        ax.set_ylabel('')
        ax.grid(axis='x', color='#e4e4e4', linewidth=0.9)
        if k == 0:
            ax.grid(axis='y', color='#ececec', linewidth=0.8)
            for lab in ax.get_yticklabels():
                lab.set_fontweight('bold')
                lab.set_fontsize(10.5)
        else:
            ax.set_yticklabels([])
        ax.set_axisbelow(True)
        ax.tick_params(axis='y', length=0, pad=4)
        ax.tick_params(axis='x', direction='in', length=4, color='#9a9a9a', pad=6,
                       labelsize=10, width=0.8)
        for lab in ax.get_xticklabels():
            lab.set_fontweight('bold')
        for s in ['top', 'right']:
            ax.spines[s].set_visible(False)
        ax.spines['left'].set_color('#a8a8a8')
        ax.spines['left'].set_linewidth(2.2)
        ax.spines['bottom'].set_color('#a0a0a0')
        ax.spines['bottom'].set_linewidth(1.2)
        ax.set_title(season, fontweight='bold', fontsize=11.5, pad=3)

# panel labels, axis labels, legends
fig.text(10 / W, 1 - 18 / H, '(A)', fontsize=13, fontweight='bold', va='center', ha='left')
fig.text(10 / W, 1 - 853 / H, '(B)', fontsize=13, fontweight='bold', va='center', ha='left')
fig.text(608 / W, 1 - 780 / H, 'Change in mean seasonal flow [%]', fontsize=10.5,
         fontweight='bold', ha='center', va='center')
fig.text(618 / W, 1 - 1602 / H, 'Change in mean seasonal flow [%]', fontsize=10.5,
         fontweight='bold', ha='center', va='center')

handles = [Patch(facecolor='#0000ff', edgecolor='#222222', linewidth=0.6),
           Patch(facecolor='#ff0000', edgecolor='#222222', linewidth=0.6),
           Patch(facecolor='#ffff00', edgecolor='#222222', linewidth=0.6)]
labels = ['SSP370: 2020s', 'SSP370: 2050s', 'SSP370: 2080s']
for cx, cy in [(1036, 781), (1011, 1606)]:
    leg = fig.legend(handles, labels, loc='center', bbox_to_anchor=(cx / W, 1 - cy / H), ncol=3,
                     frameon=True, fancybox=False, edgecolor='#8a8a8a', framealpha=1,
                     prop={'weight': 'bold', 'size': 9}, handlelength=2.6, handleheight=1.1,
                     handletextpad=0.3, columnspacing=0.35, borderpad=0.25, borderaxespad=0)
    leg.get_frame().set_linewidth(0.8)

fig.savefig('out.png', dpi=100)
